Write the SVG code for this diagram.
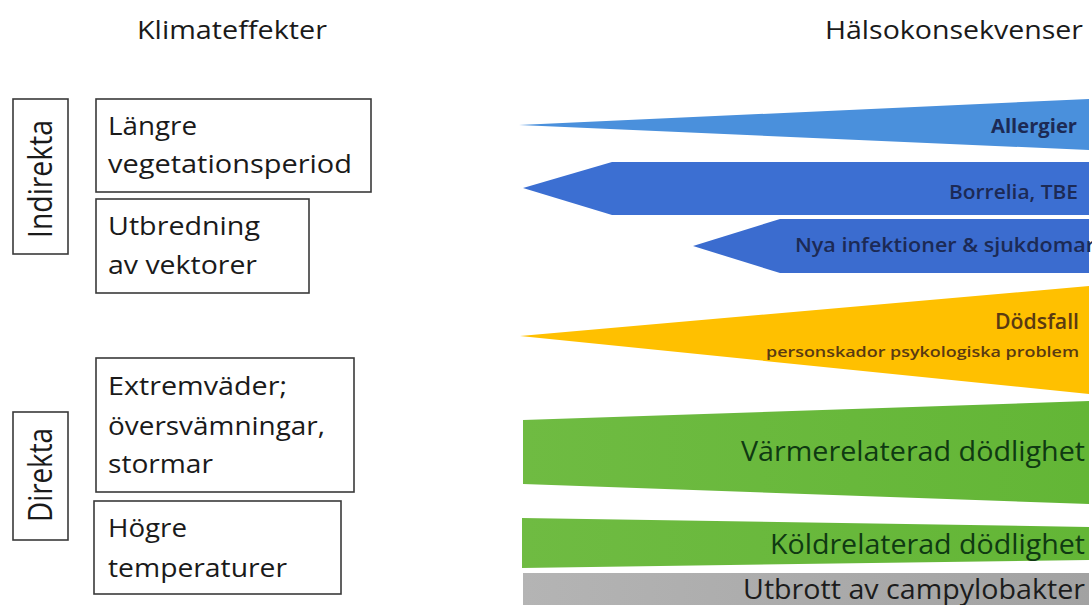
<svg xmlns="http://www.w3.org/2000/svg" width="1092" height="605" viewBox="0 0 1092 605">
<style>
.box{fill:#fff;stroke:#3a3a3a;stroke-width:1.6}
.lt{font-family:"Open Sans","Liberation Sans",sans-serif;font-size:26px;fill:#1a1a1a}
.hd{font-family:"Open Sans","Liberation Sans",sans-serif;font-size:26px;fill:#1a1a1a}
.rt{font-family:"Open Sans","Liberation Sans",sans-serif;text-anchor:end}
</style>
<defs>
<linearGradient id="gGray" x1="0" x2="1" y1="0" y2="0"><stop offset="0" stop-color="#b4b4b4"/><stop offset="1" stop-color="#a2a2a2"/></linearGradient>
<linearGradient id="gGreen" x1="0" x2="1" y1="0" y2="0"><stop offset="0" stop-color="#6fbb42"/><stop offset="1" stop-color="#63b636"/></linearGradient>
</defs>
<rect width="1092" height="605" fill="#fff"/>

<g id="header-left"><text class="hd" x="137" y="39" textLength="190" lengthAdjust="spacingAndGlyphs">Klimateffekter</text></g>
<g id="header-right"><text class="hd" x="825" y="39" textLength="258" lengthAdjust="spacingAndGlyphs">Hälsokonsekvenser</text></g>

<g id="indirekta">
<rect class="box" x="13" y="99" width="55" height="155"/>
<text class="lt" transform="translate(52,179) scale(1.25,1) rotate(-90)" text-anchor="middle" textLength="118" lengthAdjust="spacingAndGlyphs">Indirekta</text>
</g>
<g id="direkta">
<rect class="box" x="13" y="412" width="55" height="128"/>
<text class="lt" transform="translate(52,475) scale(1.25,1) rotate(-90)" text-anchor="middle" textLength="94" lengthAdjust="spacingAndGlyphs">Direkta</text>
</g>

<g id="langre">
<rect class="box" x="96" y="99" width="275" height="93"/>
<text class="lt" x="108" y="135" textLength="89" lengthAdjust="spacingAndGlyphs">Längre</text>
<text class="lt" x="108" y="173" textLength="244" lengthAdjust="spacingAndGlyphs">vegetationsperiod</text>
</g>
<g id="utbredning">
<rect class="box" x="96" y="199" width="213" height="94"/>
<text class="lt" x="108" y="235" textLength="152" lengthAdjust="spacingAndGlyphs">Utbredning</text>
<text class="lt" x="108" y="274" textLength="149" lengthAdjust="spacingAndGlyphs">av vektorer</text>
</g>
<g id="extremvader">
<rect class="box" x="96" y="358" width="258" height="134"/>
<text class="lt" x="108" y="395" textLength="179" lengthAdjust="spacingAndGlyphs">Extremväder;</text>
<text class="lt" x="108" y="435" textLength="217" lengthAdjust="spacingAndGlyphs">översvämningar,</text>
<text class="lt" x="108" y="473" textLength="105" lengthAdjust="spacingAndGlyphs">stormar</text>
</g>
<g id="hogre">
<rect class="box" x="94" y="501" width="247" height="93"/>
<text class="lt" x="108" y="537" textLength="79" lengthAdjust="spacingAndGlyphs">Högre</text>
<text class="lt" x="108" y="577" textLength="179" lengthAdjust="spacingAndGlyphs">temperaturer</text>
</g>

<g id="allergier">
<polygon points="519,125 1089,99 1089,150" fill="#4a90dc"/>
<text class="rt" x="1077" y="133" font-size="20" font-weight="bold" fill="#1c2a55" textLength="86" lengthAdjust="spacingAndGlyphs">Allergier</text>
</g>
<g id="borrelia">
<polygon points="523,188 612,162 1089,162 1089,215 612,215" fill="#3c6fd2"/>
<text class="rt" x="1078" y="199" font-size="20" font-weight="600" fill="#1c2a55" textLength="129" lengthAdjust="spacingAndGlyphs">Borrelia, TBE</text>
</g>
<g id="nya">
<polygon points="693,246 780,219 1089,219 1089,273 780,273" fill="#3b6ccf"/>
<text class="rt" x="1095" y="252" font-size="20" font-weight="600" fill="#1c2a55" textLength="300" lengthAdjust="spacingAndGlyphs">Nya infektioner &amp; sjukdomar</text>
</g>
<g id="dodsfall">
<polygon points="520,336 1089,286 1089,394" fill="#ffc000"/>
<text class="rt" x="1079" y="329" font-size="21" font-weight="600" fill="#5a3a12" textLength="84" lengthAdjust="spacingAndGlyphs">Dödsfall</text>
<text class="rt" x="1079" y="357" font-size="15" font-weight="600" fill="#5a3a12" textLength="313" lengthAdjust="spacingAndGlyphs">personskador psykologiska problem</text>
</g>
<g id="varme">
<polygon points="523,420 1089,401 1089,504 523,484" fill="url(#gGreen)"/>
<text class="rt" x="1085" y="461" font-size="27" fill="#0f3a12" textLength="344" lengthAdjust="spacingAndGlyphs">Värmerelaterad dödlighet</text>
</g>
<g id="kold">
<polygon points="522,518 1089,527 1089,560 522,568" fill="url(#gGreen)"/>
<text class="rt" x="1085" y="554" font-size="27" fill="#0f3a12" textLength="315" lengthAdjust="spacingAndGlyphs">Köldrelaterad dödlighet</text>
</g>
<g id="campylobakter">
<polygon points="523,573 1089,573 1089,605 523,605" fill="url(#gGray)"/>
<text class="rt" x="1085" y="599" font-size="27" fill="#1c1c1c" textLength="342" lengthAdjust="spacingAndGlyphs">Utbrott av campylobakter</text>
</g>
<g id="connectors"/>
</svg>
